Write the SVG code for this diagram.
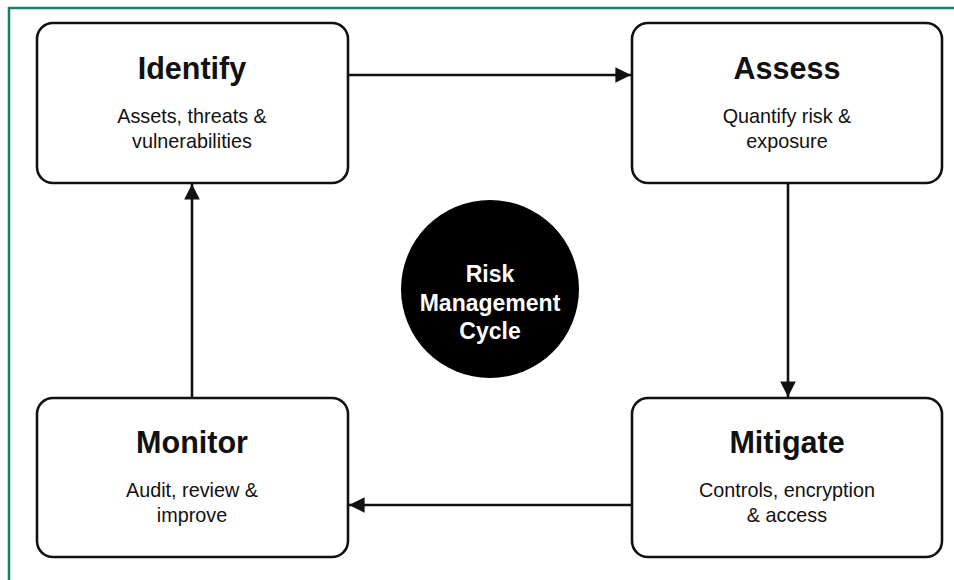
<svg xmlns="http://www.w3.org/2000/svg" width="954" height="580" viewBox="0 0 954 580">
  <style>
    .frame { fill: none; stroke: #17806a; stroke-width: 2.5; }
    .box { fill: #ffffff; stroke: #111111; stroke-width: 2.6; }
    .title { font-family: "Liberation Sans", Arial, sans-serif; font-weight: bold; font-size: 30.5px; fill: #111111; text-anchor: middle; }
    .sub { font-family: "Liberation Sans", Arial, sans-serif; font-size: 19.8px; fill: #111111; text-anchor: middle; }
    .hub { font-family: "Liberation Sans", Arial, sans-serif; font-weight: bold; font-size: 23px; fill: #ffffff; text-anchor: middle; }
    .link { fill: none; stroke: #111111; stroke-width: 2.6; }
  </style>
  <defs>
    <marker id="arrow" viewBox="0 0 10 10" refX="10" refY="5" markerWidth="6.2" markerHeight="6" markerUnits="strokeWidth" orient="auto">
      <path d="M0,0 L10,5 L0,10 Z" fill="#111111"/>
    </marker>
  </defs>

  <rect width="954" height="580" fill="#ffffff"/>
  <!-- outer frame -->
  <rect class="frame" x="9" y="8" width="980" height="620"/>

  <!-- connectors -->
  <g id="connectors">
    <line class="link" x1="348" y1="75" x2="631" y2="75" marker-end="url(#arrow)"/>
    <line class="link" x1="788" y1="183" x2="788" y2="397" marker-end="url(#arrow)"/>
    <line class="link" x1="632" y1="505" x2="349" y2="505" marker-end="url(#arrow)"/>
    <line class="link" x1="192" y1="398" x2="192" y2="184" marker-end="url(#arrow)"/>
  </g>

  <g id="identify">
    <rect class="box" x="37" y="23" width="311" height="160" rx="16"/>
    <text class="title" x="192" y="79">Identify</text>
    <text class="sub" x="192" y="123">Assets, threats &amp;</text>
    <text class="sub" x="192" y="148">vulnerabilities</text>
  </g>

  <g id="assess">
    <rect class="box" x="632" y="23" width="310" height="160" rx="16"/>
    <text class="title" x="787" y="79">Assess</text>
    <text class="sub" x="787" y="123">Quantify risk &amp;</text>
    <text class="sub" x="787" y="148">exposure</text>
  </g>

  <g id="mitigate">
    <rect class="box" x="632" y="398" width="310" height="159" rx="16"/>
    <text class="title" x="787" y="453">Mitigate</text>
    <text class="sub" x="787" y="497">Controls, encryption</text>
    <text class="sub" x="787" y="522">&amp; access</text>
  </g>

  <g id="monitor">
    <rect class="box" x="37" y="398" width="311" height="159" rx="16"/>
    <text class="title" x="192" y="453">Monitor</text>
    <text class="sub" x="192" y="497">Audit, review &amp;</text>
    <text class="sub" x="192" y="522">improve</text>
  </g>

  <g id="hub">
    <circle cx="490" cy="289" r="89" fill="#000000"/>
    <text class="hub" x="490" y="282">Risk</text>
    <text class="hub" x="490" y="311">Management</text>
    <text class="hub" x="490" y="339">Cycle</text>
  </g>
</svg>
